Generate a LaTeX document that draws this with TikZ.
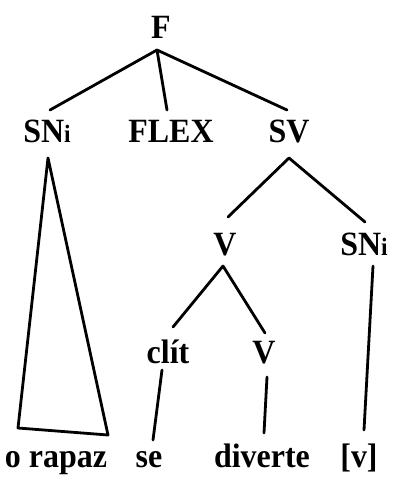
\documentclass[tikz,border=0pt]{standalone}
\usepackage{fontspec}
\setmainfont{Liberation Serif}
\newfontfamily\labfont{Liberation Serif Bold}[FakeStretch=0.94]
\begin{document}
\begin{tikzpicture}[x=1pt,y=-1pt,
  lab/.style={font=\labfont\fontsize{34}{38}\selectfont, inner sep=0pt, anchor=base},
  br/.style={line width=2.8pt, line cap=round, line join=round}]
\useasboundingbox (0,0) rectangle (392,479);
\newcommand{\smi}{{\fontsize{25}{28}\selectfont i}}
% labels
\node[lab] (F) at (161,38) {F};
\node[lab] (SN) at (47,142) {SN\smi};
\node[lab] (FLEX) at (171,142) {FLEX};
\node[lab] (SV) at (289,142) {SV};
\node[lab] (V) at (225,255) {V};
\node[lab] (SN2) at (364,255) {SN\smi};
\node[lab] (clit) at (168,363) {clít};
\node[lab] (V2) at (264,363) {V};
\node[lab] (w1) at (56,467) {o rapaz};
\node[lab] (w2) at (149,467) {se};
\node[lab] (w3) at (262,467) {diverte};
\node[lab] (w4) at (359,467) {[v]};
% branch end points
\coordinate (Fa) at (157,50);
\coordinate (SNt) at (50,110);
\coordinate (FLEXt) at (167,110);
\coordinate (SVt) at (287,110);
\coordinate (SVa) at (289,158);
\coordinate (Vt) at (228,217);
\coordinate (SN2t) at (365,222);
\coordinate (Va) at (223,266);
\coordinate (clitt) at (173,327);
\coordinate (V2t) at (265,333);
\coordinate (SNa) at (48,158);
\coordinate (trL) at (18,428);
\coordinate (trR) at (108,435);
\coordinate (SN2a) at (373,266);
\coordinate (SN2b) at (364,430);
\coordinate (clita) at (162,370);
\coordinate (clitb) at (153,440);
\coordinate (V2a) at (267,377);
\coordinate (V2b) at (264,433);
% branches
\draw[br] (Fa) -- (SNt);
\draw[br] (Fa) -- (FLEXt);
\draw[br] (Fa) -- (SVt);
\draw[br] (SVa) -- (Vt);
\draw[br] (SVa) -- (SN2t);
\draw[br] (Va) -- (clitt);
\draw[br] (Va) -- (V2t);
\draw[br] (SNa) -- (trL) -- (trR) -- cycle;
\draw[br] (SN2a) -- (SN2b);
\draw[br] (clita) -- (clitb);
\draw[br] (V2a) -- (V2b);
\end{tikzpicture}
\end{document}
